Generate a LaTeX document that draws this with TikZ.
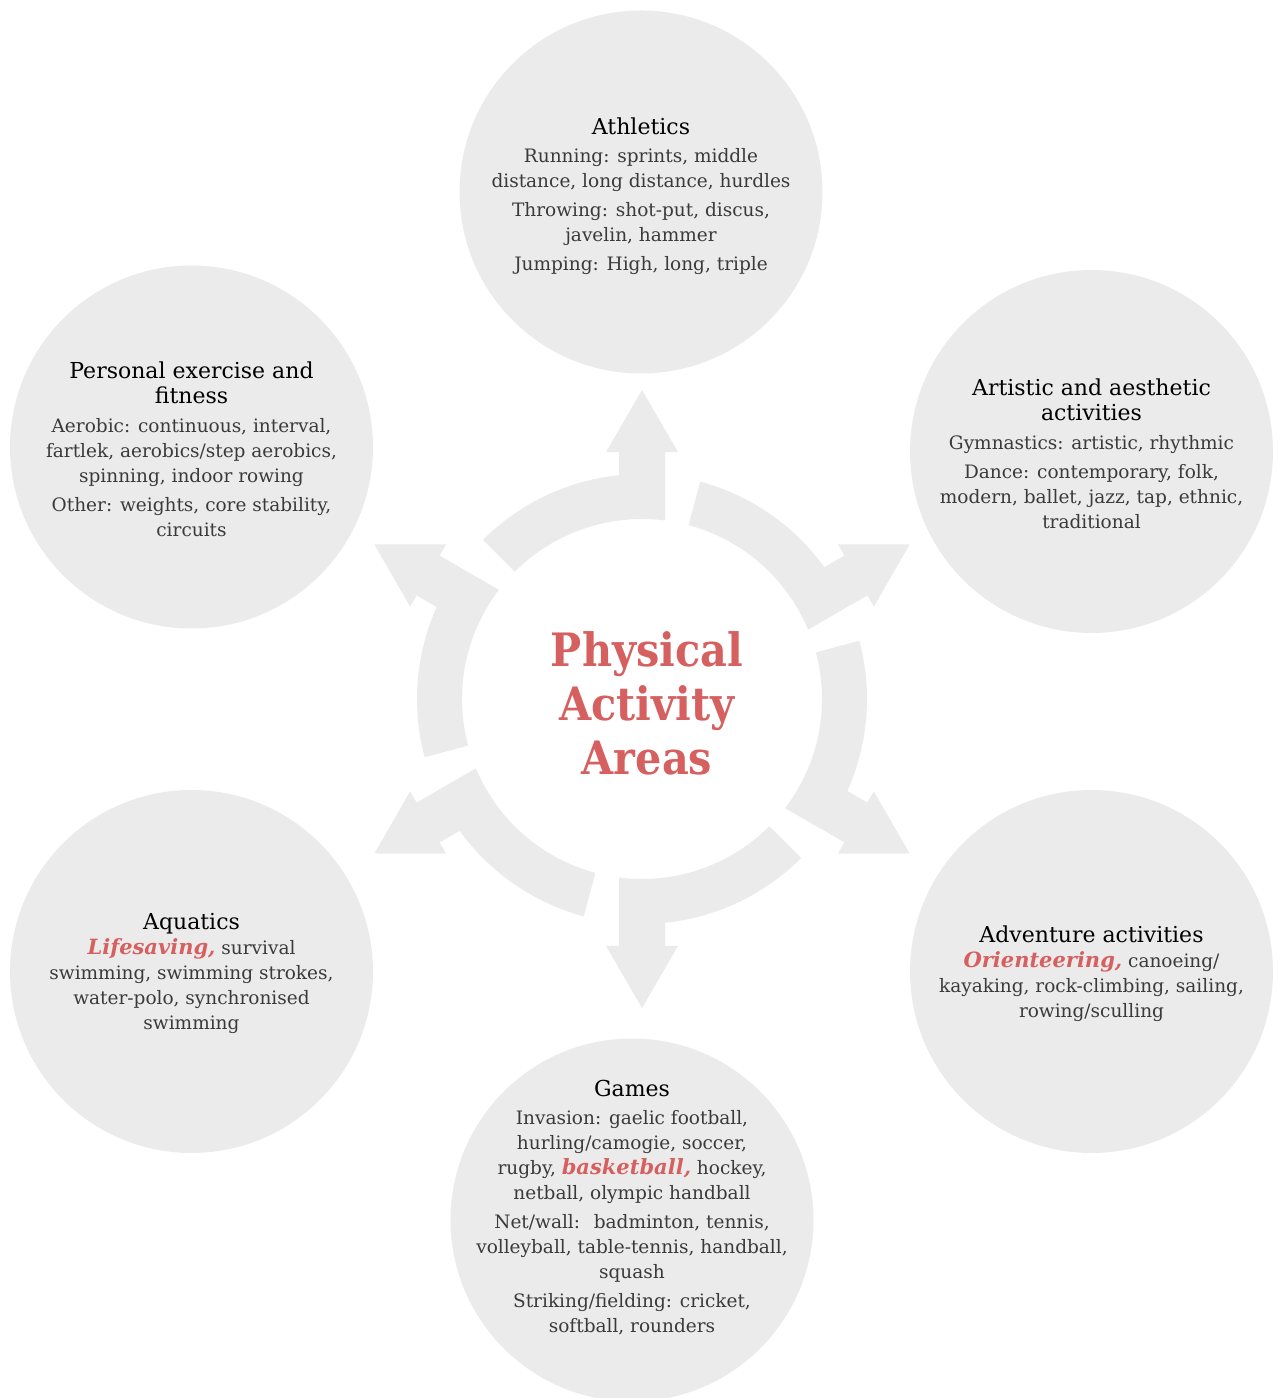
\documentclass[tikz,border=0pt]{standalone}
\usepackage{fontspec}
\setmainfont{DejaVu Serif}
\newfontfamily\condensed{DejaVu Serif Condensed}
\usetikzlibrary{positioning}

\definecolor{discgray}{HTML}{EBEBEB}
\definecolor{bodygray}{HTML}{3A3A3A}
\definecolor{hilite}{HTML}{D65F5F}

\tikzset{
  area/.style={circle, fill=discgray, minimum size=363pt, inner sep=0pt},
  areatext/.style={align=center, text=bodygray, font=\fontsize{18.5}{25}\selectfont},
  ringarrow/.style={fill=discgray},
}
\newcommand\areatitle[1]{{\color{black}\fontsize{22}{25}\selectfont #1}}
\newcommand\keyword[1]{{\color{hilite}\bfseries\itshape\fontsize{21}{25}\selectfont #1}}

\begin{document}
\begin{tikzpicture}[x=1pt,y=1pt]
  \useasboundingbox (0,0) rectangle (1278,1398);

  % discs
  \node[area] (ath) at (641,1206) {};
  \node[area] (art) at (1091.5,946.5) {};
  \node[area] (adv) at (1091.5,426.5) {};
  \node[area] (gam) at (632,178) {};
  \node[area] (aqu) at (191.5,426.5) {};
  \node[area] (per) at (191.5,951) {};

  % ring of arrows
  \coordinate (hub) at (642,699);
  \begin{scope}[shift={(hub)}]
    \foreach \d in {90,30,-30,-90,-150,150}
      \fill[ringarrow] ({\d+45}:225) arc[start angle={\d+45}, end angle={\d+5.87}, radius=225pt]
        -- ({\d+5.32}:248.07) -- ({\d+8.29}:249.6) -- (\d:309)
        -- ({\d-8.29}:249.6) -- ({\d-5.32}:248.07)
        -- ({\d-7.34}:180) arc[start angle={\d-7.34}, end angle={\d+45}, radius=180pt] -- cycle;
  \end{scope}

  \node[font=\condensed\bfseries\fontsize{46}{54}\selectfont, text=hilite, align=center] (core) at (647,695)
    {Physical\\Activity\\Areas};

  % texts
  \node[areatext] (athtxt) at ([yshift=-4pt]ath.center) {\areatitle{Athletics}\\[3pt]
    Running: sprints, middle\\ distance, long distance, hurdles\\[4pt]
    Throwing: shot-put, discus,\\ javelin, hammer\\[4pt]
    Jumping: High, long, triple};
  \node[areatext] (arttxt) at ([yshift=-2pt]art.center) {\areatitle{Artistic and aesthetic}\\ \areatitle{activities}\\[4pt]
    Gymnastics: artistic, rhythmic\\[4pt]
    Dance: contemporary, folk,\\ modern, ballet, jazz, tap, ethnic,\\ traditional};
  \node[areatext] (advtxt) at ([yshift=-2pt]adv.center) {\areatitle{Adventure activities}\\
    \keyword{Orienteering,} canoeing/\\ kayaking, rock-climbing, sailing,\\ rowing/sculling};
  \node[areatext] (gamtxt) at ([yshift=12pt]gam.center) {\areatitle{Games}\\[3pt]
    Invasion: gaelic football,\\ hurling/camogie, soccer,\\ rugby, \keyword{basketball,} hockey,\\ netball, olympic handball\\[4pt]
    Net/wall:~ badminton, tennis,\\ volleyball, table-tennis, handball,\\ squash\\[4pt]
    Striking/fielding: cricket,\\ softball, rounders};
  \node[areatext] (aqutxt) at ([yshift=-2pt]aqu.center) {\areatitle{Aquatics}\\
    \keyword{Lifesaving,} survival\\ swimming, swimming strokes,\\ water-polo, synchronised\\ swimming};
  \node[areatext] (pertxt) at ([yshift=-2pt]per.center) {\areatitle{Personal exercise and}\\ \areatitle{fitness}\\[4pt]
    Aerobic: continuous, interval,\\ fartlek, aerobics/step aerobics,\\ spinning, indoor rowing\\[4pt]
    Other: weights, core stability,\\ circuits};
\end{tikzpicture}
\end{document}
